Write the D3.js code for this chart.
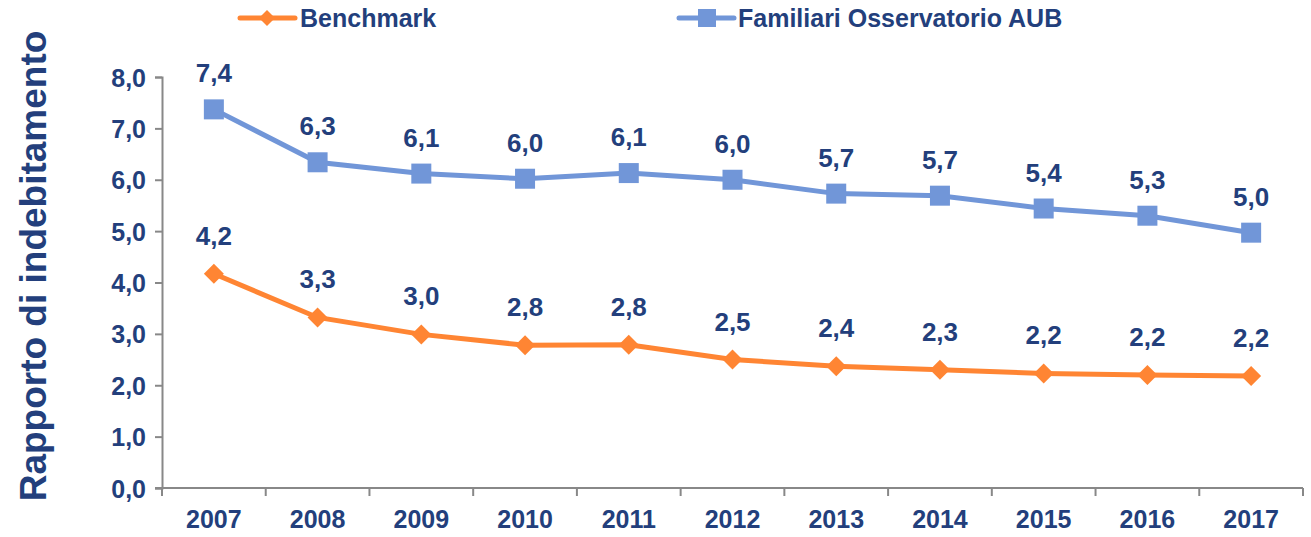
<!DOCTYPE html>
<html>
<head lang="it">
  <title>Rapporto di indebitamento</title>
  <script src="https://d3js.org/d3.v7.min.js" charset="utf-8"></script>
  <style>
    body { margin: 0; background: #fff; }
    text { font-family: "Liberation Sans", Arial, sans-serif; font-weight: bold; }
  </style>
</head>
<body>
  <script>

    // data
    var years = ["2007", "2008", "2009", "2010", "2011", "2012", "2013", "2014", "2015", "2016", "2017"];
    var benchmark = [4.17, 3.32, 2.99, 2.78, 2.79, 2.50, 2.37, 2.30, 2.23, 2.20, 2.18];
    var familiari = [7.37, 6.34, 6.12, 6.02, 6.13, 6.00, 5.73, 5.69, 5.44, 5.30, 4.97];
    var yTicks = [0, 1, 2, 3, 4, 5, 6, 7, 8];

    var width = 1311;
    var height = 537;
    var navy = "#233F7C";
    var blue = "#7196D8";
    var orange = "#FF8533";

    var svg = d3.select("body")
      .append("svg")
      .attr("width", width)
      .attr("height", height);

    var x = d3.scaleBand()
      .domain(years)
      .range([162, 1303]);

    var y = d3.scaleLinear()
      .domain([0, 8])
      .range([488, 77]);

    var fmt = function(v) { return v.toFixed(1).replace(".", ","); };

    // y axis
    var yAxis = svg.append("g")
      .attr("transform", "translate(162,0)")
      .call(d3.axisLeft(y).tickValues(yTicks).tickSize(7).tickPadding(9).tickFormat(fmt));
    yAxis.selectAll("line, path").attr("stroke", "#888").attr("stroke-width", 2);
    yAxis.selectAll("text")
      .attr("fill", navy)
      .attr("font-size", "25px")
      .attr("dy", "0.36em");

    // x axis: ticks between categories
    var xAxis = svg.append("g")
      .attr("transform", "translate(0,488)")
      .call(d3.axisBottom(x).tickSize(0).tickPadding(22));
    xAxis.select(".domain").attr("stroke", "#888").attr("stroke-width", 2).attr("d", "M155,0H1303");
    xAxis.selectAll("text")
      .attr("fill", navy)
      .attr("font-size", "25px");
    var bounds = years.map(function(d) { return x(d); }).concat([x.range()[1]]);
    xAxis.selectAll(".sep")
      .data(bounds)
      .enter().append("line")
        .attr("class", "sep")
        .attr("x1", function(d) { return d; })
        .attr("x2", function(d) { return d; })
        .attr("y1", 0)
        .attr("y2", 8)
        .attr("stroke", "#888")
        .attr("stroke-width", 2);

    // y title
    svg.append("text")
      .attr("transform", "translate(46,266) rotate(-90)")
      .attr("text-anchor", "middle")
      .attr("font-size", "37px")
      .attr("fill", navy)
      .text("Rapporto di indebitamento");

    var cx = function(i) { return x(years[i]) + x.bandwidth() / 2; };
    var line = d3.line()
      .x(function(d, i) { return cx(i); })
      .y(function(d) { return y(d); });

    // Familiari series
    svg.append("path")
      .datum(familiari)
      .attr("d", line)
      .attr("fill", "none")
      .attr("stroke", blue)
      .attr("stroke-width", 5);

    svg.selectAll(".sq")
      .data(familiari)
      .enter().append("rect")
        .attr("class", "sq")
        .attr("x", function(d, i) { return cx(i) - 10; })
        .attr("y", function(d) { return y(d) - 10; })
        .attr("width", 20)
        .attr("height", 20)
        .attr("fill", blue);

    svg.selectAll(".lbf")
      .data(familiari)
      .enter().append("text")
        .attr("class", "lbf")
        .attr("x", function(d, i) { return cx(i); })
        .attr("y", function(d) { return y(d) - 27; })
        .attr("text-anchor", "middle")
        .attr("font-size", "26px")
        .attr("fill", navy)
        .text(fmt);

    // Benchmark series
    svg.append("path")
      .datum(benchmark)
      .attr("d", line)
      .attr("fill", "none")
      .attr("stroke", orange)
      .attr("stroke-width", 5);

    var diamond = "M0,-10L10,0L0,10L-10,0Z";
    svg.selectAll(".dm")
      .data(benchmark)
      .enter().append("path")
        .attr("class", "dm")
        .attr("transform", function(d, i) { return "translate(" + cx(i) + "," + y(d) + ")"; })
        .attr("d", diamond)
        .attr("fill", orange);

    svg.selectAll(".lbb")
      .data(benchmark)
      .enter().append("text")
        .attr("class", "lbb")
        .attr("x", function(d, i) { return cx(i); })
        .attr("y", function(d) { return y(d) - 29; })
        .attr("text-anchor", "middle")
        .attr("font-size", "26px")
        .attr("fill", navy)
        .text(fmt);

    // legend
    var leg = svg.append("g").attr("class", "legend");
    var lb = leg.append("g").attr("transform", "translate(240,18)");
    lb.append("line").attr("x1", 0).attr("x2", 55).attr("stroke", orange).attr("stroke-width", 5).attr("stroke-linecap", "round");
    lb.append("path").attr("transform", "translate(27,0)").attr("d", "M0,-8L8,0L0,8L-8,0Z").attr("fill", orange);
    lb.append("text").attr("x", 60).attr("y", 9).attr("font-size", "25px").attr("fill", navy).text("Benchmark");

    var lf = leg.append("g").attr("transform", "translate(679,18)");
    lf.append("line").attr("x1", 0).attr("x2", 55).attr("stroke", blue).attr("stroke-width", 5).attr("stroke-linecap", "round");
    lf.append("rect").attr("x", 19).attr("y", -9).attr("width", 18).attr("height", 18).attr("fill", blue);
    lf.append("text").attr("x", 59).attr("y", 9).attr("font-size", "25px").attr("fill", navy).text("Familiari Osservatorio AUB");

  </script>
</body>
</html>
